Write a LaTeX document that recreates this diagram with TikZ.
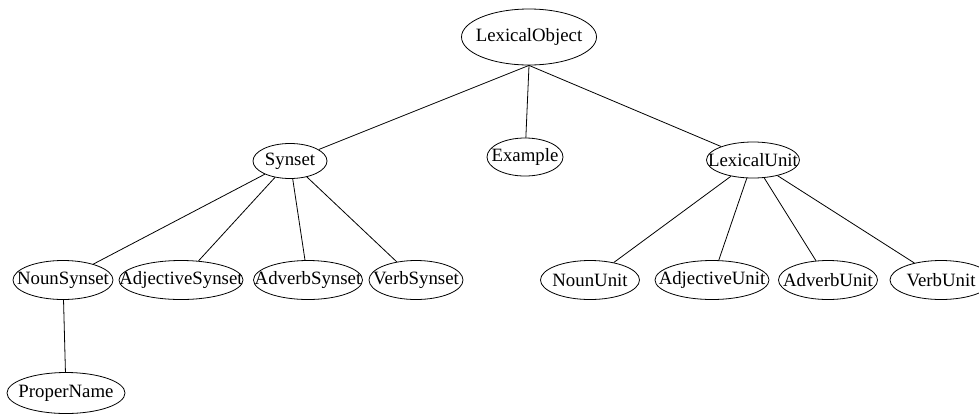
\documentclass[tikz,border=0pt]{standalone}
\usepackage{fontspec}
\setmainfont{Liberation Serif}
\usetikzlibrary{shapes.geometric}
\tikzset{
  cls/.style={ellipse, draw, line width=0.8pt, inner xsep=-40pt, inner ysep=-20pt, font=\fontsize{18.8}{22}\selectfont},
  edge/.style={draw, line width=0.8pt}
}
\begin{document}
\begin{tikzpicture}[x=1pt,y=-1pt]
\useasboundingbox (0,0) rectangle (979,416);
\node[cls, minimum width=135pt, minimum height=56pt] (lo) at (529,37) {LexicalObject};
\node[cls, minimum width=74pt, minimum height=35pt] (syn) at (290,161) {Synset};
\node[cls, minimum width=76pt, minimum height=38pt] (ex) at (525,157) {Example};
\node[cls, minimum width=93pt, minimum height=36pt] (lu) at (753,160) {LexicalUnit};
\node[cls, minimum width=100pt, minimum height=39pt] (ns) at (63,280) {NounSynset};
\node[cls, minimum width=124pt, minimum height=39pt] (as) at (181,280) {AdjectiveSynset};
\node[cls, minimum width=109pt, minimum height=39pt] (avs) at (308,280) {AdverbSynset};
\node[cls, minimum width=94pt, minimum height=39pt] (vs) at (416,280) {VerbSynset};
\node[cls, minimum width=99pt, minimum height=39pt] (nu) at (590,280) {NounUnit};
\node[cls, minimum width=114pt, minimum height=39pt] (au) at (712,280) {AdjectiveUnit};
\node[cls, minimum width=99pt, minimum height=39pt] (avu) at (828,280) {AdverbUnit};
\node[cls, minimum width=102pt, minimum height=39pt] (vu) at (941,280) {VerbUnit};
\node[cls, minimum width=118pt, minimum height=41pt] (pn) at (66,393) {ProperName};
\path[edge] (lo.south) -- (syn);
\path[edge] (lo.south) -- (ex);
\path[edge] (lo.south) -- (lu);
\path[edge] (syn) -- (ns);
\path[edge] (syn) -- (as);
\path[edge] (syn) -- (avs);
\path[edge] (syn) -- (vs);
\path[edge] (lu) -- (nu);
\path[edge] (lu) -- (au);
\path[edge] (lu) -- (avu);
\path[edge] (lu) -- (vu);
\path[edge] (ns) -- (pn);
\end{tikzpicture}
\end{document}
